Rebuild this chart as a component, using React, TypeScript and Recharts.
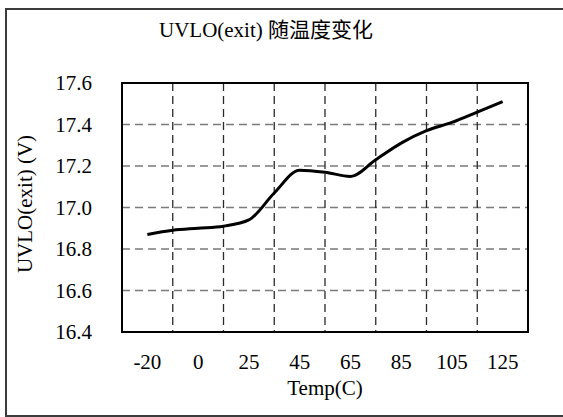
import React from 'react';
import { LineChart, Line, XAxis, YAxis, CartesianGrid, ReferenceArea, Label } from 'recharts';

// category labels on the x axis (evenly spaced, not linear in temperature)
const tempLabels = ['-20', '0', '25', '45', '65', '85', '105', '125'];
// UVLO(exit) readings, two per category (centre and category edge)
const uvloExit = [16.87, 16.89, 16.9, 16.91, 16.94, 17.07, 17.18, 17.17, 17.15, 17.23, 17.31, 17.37, 17.41, 17.46, 17.51];
const yTicks = [16.4, 16.6, 16.8, 17.0, 17.2, 17.4, 17.6];

const FONT = '"Liberation Serif", "Noto Sans CJK SC", serif';

const data = uvloExit.map((v, i) => ({ pos: i / 2 + 0.5, uvlo: v }));
const gridTicks = tempLabels.slice(1).map((_, i) => i + 1);
const labelTicks = tempLabels.map((_, i) => i + 0.5);

const App: React.FC = () => {
  return (
    <div style={{ position: 'absolute', left: 0, top: 0, width: 563, height: 417, overflow: 'hidden', background: '#fff' }}>
      {/* outer frame, right side runs off the picture */}
      <div
        style={{
          position: 'absolute',
          left: 5,
          top: 8,
          width: 620,
          height: 405,
          borderLeft: '2px solid #3c3c3c',
          borderTop: '2px solid #3c3c3c',
          borderBottom: '2px solid #3c3c3c',
        }}
      />
      <div
        style={{
          position: 'absolute',
          left: 0,
          top: 15,
          width: 532,
          textAlign: 'center',
          fontFamily: FONT,
          fontSize: 21,
          lineHeight: '30px',
          color: '#000',
        }}
      >
        UVLO(exit) 随温度变化
      </div>
      <div style={{ position: 'absolute', left: 0, top: 0 }}>
        <LineChart width={563} height={417} data={data} margin={{ top: 83, right: 35, left: 0, bottom: 0 }}>
          <XAxis xAxisId="grid" type="number" dataKey="pos" domain={[0, 8]} ticks={gridTicks} height={0} hide />
          <XAxis
            xAxisId="lbl"
            type="number"
            dataKey="pos"
            domain={[0, 8]}
            ticks={labelTicks}
            interval={0}
            height={85}
            axisLine={false}
            tickLine={false}
            tickSize={0}
            tickMargin={22}
            tickFormatter={(v: number) => tempLabels[Math.floor(v)]}
            tick={{ fill: '#000', fontSize: 21, fontFamily: FONT }}
          >
            <Label
              content={() => (
                <text x={325} y={395} textAnchor="middle" fill="#000" fontSize={21} fontFamily={FONT}>
                  Temp(C)
                </text>
              )}
            />
          </XAxis>
          <YAxis
            domain={[16.4, 17.6]}
            ticks={yTicks}
            interval={0}
            width={122}
            axisLine={false}
            tickLine={false}
            tickSize={0}
            tickMargin={30}
            tickFormatter={(v: number) => v.toFixed(1)}
            tick={{ fill: '#000', fontSize: 21, fontFamily: FONT }}
          >
            <Label
              content={() => (
                <text
                  x={25}
                  y={204}
                  transform="rotate(-90 25 204)"
                  textAnchor="middle"
                  dominantBaseline="central"
                  fill="#000"
                  fontSize={21}
                  fontFamily={FONT}
                >
                  UVLO(exit)  (V)
                </text>
              )}
            />
          </YAxis>
          <CartesianGrid vertical={false} stroke="#7a7a7a" strokeDasharray="8 5" strokeWidth={1.3} />
          <CartesianGrid xAxisId="grid" horizontal={false} stroke="#2a2a2a" strokeDasharray="8 5" strokeWidth={1.3} />
          <ReferenceArea
            xAxisId="lbl"
            x1={0}
            x2={8}
            y1={16.4}
            y2={17.6}
            fill="none"
            fillOpacity={0}
            stroke="#000"
            strokeWidth={2}
          />
          <Line
            xAxisId="lbl"
            type="monotone"
            dataKey="uvlo"
            stroke="#000"
            strokeWidth={3}
            dot={false}
            isAnimationActive={false}
          />
        </LineChart>
      </div>
    </div>
  );
};

export default App;
